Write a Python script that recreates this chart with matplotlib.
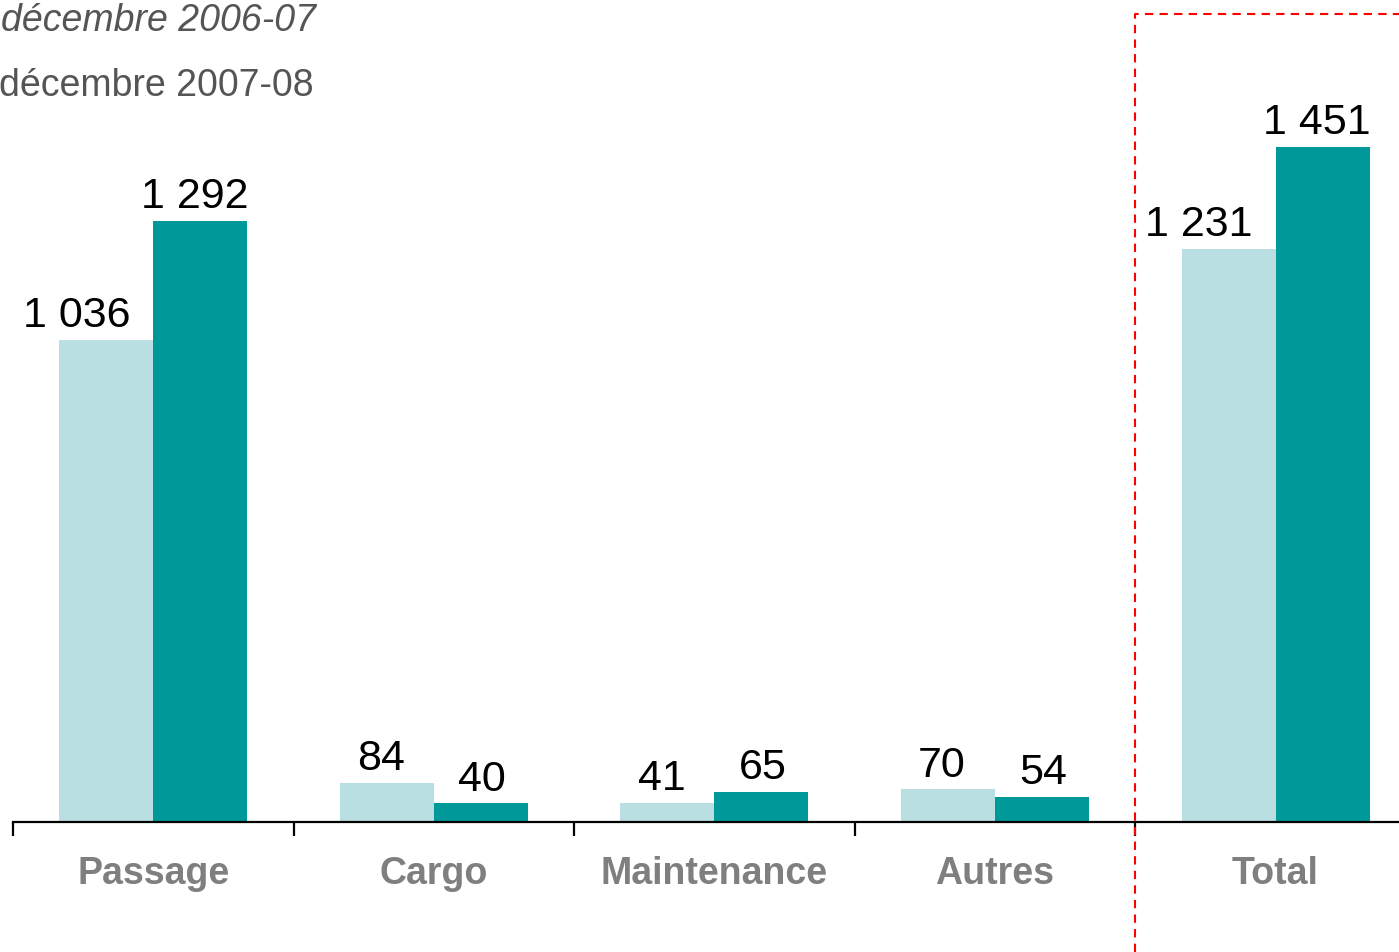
import matplotlib
matplotlib.use("Agg")
import matplotlib.pyplot as plt
import matplotlib.transforms as mtransforms
import numpy as np

categories = ["Passage", "Cargo", "Maintenance", "Autres", "Total"]
series_names = ["décembre 2006-07", "décembre 2007-08"]
values_2006 = [1036, 84, 41, 70, 1231]
values_2007 = [1292, 40, 65, 54, 1451]
labels_2006 = ["1 036", "84", "41", "70", "1 231"]
labels_2007 = ["1 292", "40", "65", "54", "1 451"]

light = "#B9DFE2"
dark = "#009999"

plt.rcParams['font.family'] = ['Liberation Sans', 'DejaVu Sans']

W, H = 1399, 953
fig = plt.figure(figsize=(W / 100, H / 100), dpi=100)
left_px, right_px, base_px, top_px = 13, 1399, 823, 0
ax = fig.add_axes([left_px / W, (H - base_px) / H, (right_px - left_px) / W, (base_px - top_px) / H])

x = np.arange(len(categories))
bw = 0.335
ax.bar(x - bw / 2, values_2006, width=bw, color=light, linewidth=0)
ax.bar(x + bw / 2, values_2007, width=bw, color=dark, linewidth=0)

ax.set_xlim(-0.5, 4.44)
ax.set_ylim(0, 1769)

for xi, v, lab in zip(x, values_2006, labels_2006):
    dx = -30 if v >= 1000 else -6
    ax.annotate(lab, (xi - bw / 2, v), xytext=(dx * 0.72, 10), textcoords="offset points",
                ha="center", va="baseline", fontsize=31, color="black")
for xi, v, lab in zip(x, values_2007, labels_2007):
    dx = -6 if v >= 1000 else 1
    ax.annotate(lab, (xi + bw / 2, v), xytext=(dx * 0.72, 10), textcoords="offset points",
                ha="center", va="baseline", fontsize=31, color="black")

for s in ["top", "right", "left"]:
    ax.spines[s].set_visible(False)
ax.spines["bottom"].set_linewidth(1.6)
ax.spines["bottom"].set_color("black")
ax.set_yticks([])

ax.set_xticks(np.arange(len(categories)) - 0.5)
ax.set_xticklabels([])
ax.tick_params(axis="x", direction="out", length=10, width=1.6, color="black")

ax.set_xticks(x, minor=True)
ax.set_xticklabels(categories, minor=True, fontsize=27, fontweight="bold", color="#7f7f7f")
ax.tick_params(axis="x", which="minor", length=0, pad=24)

# legend-like titles
fig.text(0.001, 1 - 21 / H, series_names[0], fontsize=27, style="italic", color="#555555",
         ha="left", va="center")
fig.text(-0.001, 1 - 86 / H, series_names[1], fontsize=27, color="#555555",
         ha="left", va="center")

# red dashed box around Total
trans = mtransforms.blended_transform_factory(ax.transData, ax.transAxes)
y_top = (base_px - 15) / (base_px - top_px)
y_bot = (base_px - H) / (base_px - top_px)
ax.plot([3.5, 3.5, 4.44], [y_bot, y_top, y_top], transform=trans, color="red",
        linestyle=(0, (4, 3)), linewidth=1.5, clip_on=False, zorder=5)

fig.savefig("out.png", dpi=100)
